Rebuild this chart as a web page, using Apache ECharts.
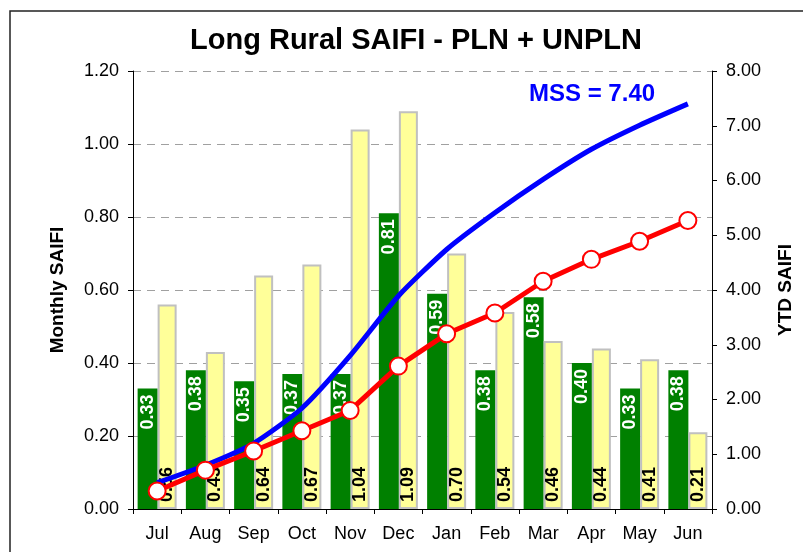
<!DOCTYPE html>
<html>
<head>
<meta charset="utf-8">
<script src="https://cdn.jsdelivr.net/npm/echarts@6/dist/echarts.min.js"></script>
<style>
html,body{margin:0;padding:0;background:#fff;}
#c{width:803px;height:552px;}
</style>
</head>
<body>
<div id="c"></div>
<script>
var categories = ['Jul','Aug','Sep','Oct','Nov','Dec','Jan','Feb','Mar','Apr','May','Jun'];
var monthlyCurrent = [0.33,0.38,0.35,0.37,0.37,0.81,0.59,0.38,0.58,0.40,0.33,0.38];
var monthlyPrevious = [0.56,0.43,0.64,0.67,1.04,1.09,0.70,0.54,0.46,0.44,0.41,0.21];
var ytdCurrent = [0.33,0.71,1.06,1.43,1.80,2.61,3.20,3.58,4.16,4.56,4.89,5.27];
var ytdMSS = [0.48,0.80,1.20,1.84,2.80,3.89,4.74,5.41,6.02,6.57,7.01,7.40];
var leftTicks = ['0.00','0.20','0.40','0.60','0.80','1.00','1.20'];
var rightTicks = ['0.00','1.00','2.00','3.00','4.00','5.00','6.00','7.00','8.00'];

var FF = 'Liberation Sans, Arial, sans-serif';
var chart = echarts.init(document.getElementById('c'));
chart.setOption({
  animation: false,
  backgroundColor: '#ffffff',
  title: {
    text: 'Long Rural SAIFI - PLN + UNPLN',
    left: 411, top: 21, textAlign: 'center',
    textStyle: {fontFamily: FF, fontSize: 29, fontWeight: 'bold', color: '#000'}
  },
  graphic: [
    {type: 'rect', shape: {x: 10, y: 11, width: 900, height: 700}, style: {fill: 'none', stroke: '#222', lineWidth: 1.5}, silent: true, z: 100},
    {type: 'text', left: 529, top: 82, style: {text: 'MSS = 7.40', fill: '#0000ff', font: 'bold 24px Liberation Sans, Arial, sans-serif'}, z: 100}
  ],
  grid: {left: 133, right: 87, top: 71, bottom: 43, containLabel: false},
  xAxis: {
    type: 'category', data: categories,
    axisLine: {lineStyle: {color: '#000', width: 1}},
    axisTick: {show: true, length: 5, lineStyle: {color: '#000'}},
    axisLabel: {color: '#000', fontFamily: FF, fontSize: 18, margin: 16}
  },
  yAxis: [
    {
      type: 'value', min: 0, max: 1.2, interval: 0.2, position: 'left',
      name: 'Monthly SAIFI', nameLocation: 'middle', nameGap: 66,
      nameTextStyle: {fontFamily: FF, fontSize: 19, fontWeight: 'bold', color: '#000'},
      axisLine: {show: true, lineStyle: {color: '#000', width: 1}},
      axisTick: {show: true, length: 5, lineStyle: {color: '#000'}},
      axisLabel: {color: '#000', fontFamily: FF, fontSize: 18, margin: 14,
        formatter: function (v) { return leftTicks[Math.round(v / 0.2)]; }},
      splitLine: {show: true, lineStyle: {color: '#a0a0a0', type: [8, 6], width: 1}}
    },
    {
      type: 'value', min: 0, max: 8, interval: 1, position: 'right',
      name: 'YTD SAIFI', nameLocation: 'middle', nameGap: 64, nameRotate: 90,
      nameTextStyle: {fontFamily: FF, fontSize: 19, fontWeight: 'bold', color: '#000'},
      axisLine: {show: true, lineStyle: {color: '#000', width: 1}},
      axisTick: {show: true, length: 5, lineStyle: {color: '#000'}},
      axisLabel: {color: '#000', fontFamily: FF, fontSize: 18, margin: 14,
        formatter: function (v) { return rightTicks[Math.round(v)]; }},
      splitLine: {show: false}
    }
  ],
  series: [
    {
      type: 'bar', data: monthlyCurrent, barWidth: 20, barGap: '0%', yAxisIndex: 0,
      itemStyle: {color: '#008000'},
      label: {show: true, position: 'insideTop', rotate: 90, align: 'right', verticalAlign: 'middle', distance: 6,
        color: '#fff', fontFamily: FF, fontSize: 18, fontWeight: 'bold',
        formatter: function (p) { return p.value.toFixed(2); }}
    },
    {
      type: 'bar', data: monthlyPrevious, barWidth: 19, yAxisIndex: 0,
      itemStyle: {color: '#ffff99', borderColor: '#c0c0c0', borderWidth: 2},
      label: {show: true, position: 'insideBottom', rotate: 90, align: 'left', verticalAlign: 'middle', distance: 7,
        color: '#000', fontFamily: FF, fontSize: 18, fontWeight: 'bold',
        formatter: function (p) { return p.value.toFixed(2); }}
    },
    {
      type: 'line', data: ytdMSS, yAxisIndex: 1, smooth: 0.2, showSymbol: false, symbol: 'none',
      lineStyle: {color: '#0000ff', width: 5}, z: 5
    },
    {
      type: 'line', data: ytdCurrent, yAxisIndex: 1, symbol: 'circle', symbolSize: 17,
      lineStyle: {color: '#ff0000', width: 5},
      itemStyle: {color: '#ffffff', borderColor: '#ff0000', borderWidth: 2}, z: 6
    }
  ]
});
</script>
</body>
</html>
